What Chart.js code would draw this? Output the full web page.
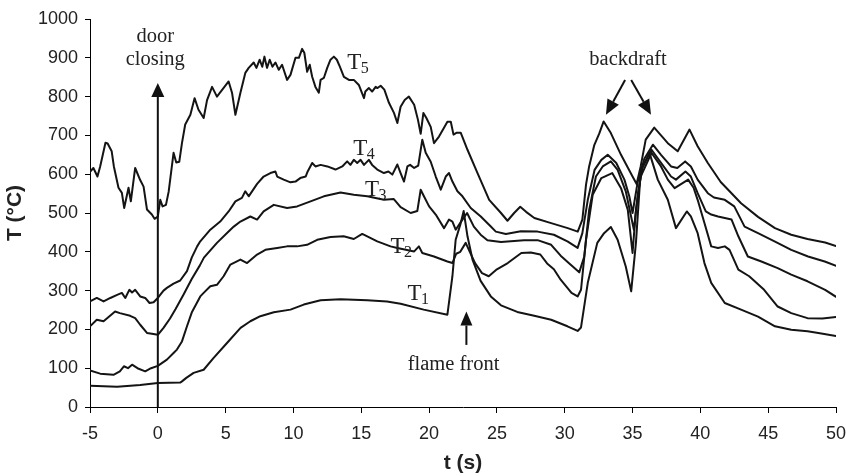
<!DOCTYPE html>
<html>
<head>
<meta charset="utf-8">
<script src="https://cdn.jsdelivr.net/npm/chart.js@4.4.1/dist/chart.umd.min.js"></script>
<style>
html,body{margin:0;padding:0;background:#fff;}
#wrap{width:846px;height:476px;position:relative;}
</style>
</head>
<body>
<div id="wrap"><canvas id="c" width="846" height="476"></canvas></div>
<script>
// ---- Data (time in s, temperature in °C) ----
const t5Time = [-5,-4.75,-4.45,-4.25,-3.86,-3.7,-3.4,-3.24,-2.9,-2.65,-2.48,-2.16,-1.99,-1.67,-1.3,-1.05,-0.8,-0.44,-0.24,0,0.18,0.35,0.6,0.8,1.16,1.36,1.58,1.78,2.02,2.4,2.71,3.0,3.38,3.63,4.0,4.36,5.22,5.47,5.72,6.09,6.45,6.7,7.07,7.27,7.51,7.7,7.86,8.05,8.25,8.45,8.67,8.92,9.16,9.53,9.78,10.15,10.4,10.64,10.8,11.01,11.2,11.38,11.62,11.87,12.0,12.24,12.49,12.73,12.98,13.2,13.42,13.72,14.09,14.45,14.82,15.2,15.3,15.56,15.8,16.06,16.2,16.43,16.7,17.04,17.41,17.66,17.9,18.2,18.51,18.9,19.18,19.38,19.58,19.8,20.12,20.36,20.73,21.1,21.35,21.6,21.8,22.04,22.33,22.83,23.57,24.43,25.3,25.78,26.27,26.72,27.15,27.76,29,30.22,30.96,31.3,31.57,31.8,32.18,32.55,32.87,33.4,34.15,35.0,35.3,35.6,35.97,36.6,37.6,38.33,39.2,39.8,40.55,41.5,43,44.25,45.5,46.7,47.9,49.2,50];
const t5Temp = [606,616,594,620,681,679,659,620,565,552,513,565,530,616,585,568,509,496,485,491,534,517,521,555,655,630,632,680,728,753,796,766,745,791,825,800,839,810,753,810,861,874,888,874,895,877,903,874,895,877,888,869,882,843,856,900,900,923,913,864,882,851,825,810,843,848,874,895,903,895,877,851,843,843,830,796,813,822,813,825,822,828,818,784,758,732,774,791,800,779,740,704,758,745,722,680,697,720,735,735,702,707,707,663,603,534,500,480,500,516,503,487,474,461,452,483,573,620,675,705,736,706,650,594,575,620,689,720,680,659,715,672,629,580,525,490,461,444,433,424,415];

const t4Time = [-5,-4.5,-4,-3.5,-3,-2.65,-2.4,-2.1,-1.9,-1.67,-1.3,-0.93,-0.61,-0.31,0,0.42,0.67,1.16,1.65,2.15,2.5,2.9,3.13,3.87,4.6,5.22,5.72,6.2,6.45,6.7,7.32,7.8,8.3,8.67,8.8,9.28,9.78,10.15,10.5,10.9,11.05,11.38,11.62,12,12.5,13.1,13.6,13.96,14.2,14.45,14.7,14.95,15.2,15.56,15.8,16.18,16.67,17,17.29,17.66,17.9,18.15,18.4,18.6,18.9,19.2,19.5,19.75,20.12,20.49,20.86,21.23,21.47,21.72,22.09,22.46,23.07,23.81,24.55,24.92,25.66,26.77,28,29.2,30.2,30.95,31.3,31.7,32.2,32.7,33.17,33.8,34.4,34.76,35,35.38,35.87,36.5,37.1,37.84,38.3,38.88,39.3,39.8,40.55,41,41.8,42.5,43.26,44.25,45.47,46.7,47.94,49.17,50];
const t4Temp = [272,281,272,281,289,294,281,302,295,302,285,281,268,270,281,300,307,318,326,350,385,414,427,457,478,504,530,539,556,543,575,594,603,607,594,586,579,581,590,594,607,629,620,624,620,612,620,633,624,637,629,637,624,637,624,612,603,607,599,625,603,581,620,624,616,622,689,655,632,594,560,594,603,581,556,543,513,491,465,452,446,453,452,444,427,410,448,534,611,637,650,629,586,543,500,580,640,676,650,620,616,633,620,586,551,540,534,517,465,448,427,405,388,375,364];

const t3Time = [-5,-4.5,-4,-3.15,-2.8,-2.04,-1.67,-1.3,-0.8,-0.44,0,0.42,0.9,1.3,1.9,2.5,3.1,3.4,4.36,5.35,5.6,6.09,6.82,7.32,7.8,8.55,9.53,10.27,11.26,12.24,13.47,14.45,15.44,16.67,17.4,17.9,18.64,19.13,19.38,19.62,20,20.49,21.1,21.47,21.72,21.96,22.46,22.8,23.3,23.8,24.3,25.3,27,28,29,29.7,30.4,31.07,31.44,31.8,32.3,32.8,33.4,33.9,34.5,35.1,35.4,35.75,36.4,37.1,37.84,38.2,38.9,39.3,39.8,40.4,40.8,41.3,42.3,42.8,43.5,44.5,45.7,46.7,47.9,49.2,50];
const t3Temp = [208,225,221,246,242,235,229,212,191,189,186,204,228,252,290,330,365,385,423,457,465,478,491,483,504,521,513,517,530,543,553,547,543,534,536,515,500,505,560,543,517,496,461,483,478,457,483,500,465,444,430,425,430,430,418,390,368,347,388,508,594,620,633,611,556,457,551,620,663,629,594,586,607,594,551,504,496,491,483,440,388,375,358,341,324,302,284];

const t2Time = [-5,-4.25,-3.27,-2.8,-2.5,-2.2,-1.9,-1.5,-0.93,-0.5,0,0.67,1.16,1.41,1.78,2.15,2.52,3.13,3.38,3.87,4.36,4.85,5.35,6.09,6.58,7.32,7.93,8.8,9.53,10.27,11,11.75,12.73,13.7,14.45,15.07,16.18,17.16,17.66,18.9,19.25,19.5,20.36,21.35,21.72,22.0,22.3,22.7,23.0,23.4,23.9,24.4,25,25.8,26.8,27.5,28.2,28.7,29.2,29.7,30.5,30.95,31.2,31.57,32.06,32.7,33.5,34.15,34.65,35,35.25,35.6,36.4,37.1,37.6,38.1,39.1,39.5,39.8,40.3,40.8,41.3,41.8,42.15,42.8,43.6,44.7,45.7,46.7,47.9,49,50];
const t2Temp = [94,86,83,92,105,100,109,100,92,100,106,122,139,148,169,208,245,285,294,311,315,337,367,380,371,393,405,410,414,414,418,431,438,440,433,446,427,414,410,401,414,397,388,375,371,395,400,423,400,370,345,337,355,371,397,398,393,370,355,328,294,285,302,431,547,590,603,564,508,397,508,594,655,620,586,564,586,565,534,474,414,410,414,405,354,337,302,259,242,229,228,232];

const t1Time = [-5,-3,-1.3,0,1.65,1.78,2.1,2.64,3.38,4.1,5.1,6.1,6.82,7.56,8.55,9.78,10.76,12,13.47,15.44,16.9,17.9,19.6,21.35,21.72,21.96,22.3,22.55,22.83,23.2,23.8,24.55,25.3,26.5,27.75,29,30.2,30.95,31.2,31.7,32.4,32.9,33.4,33.9,34.5,34.9,35.25,35.6,36.25,36.86,37.6,38.2,39,39.3,39.8,40.3,40.8,41.8,43,44.25,45.5,46.7,47.9,48.7,50];
const t1Temp = [55,52,57,62,63,66,75,88,96,126,165,204,221,234,244,251,264,275,278,275,272,266,251,238,337,431,470,505,440,380,325,285,262,245,235,225,208,196,205,320,423,448,464,431,362,298,423,607,655,586,534,461,504,491,448,371,320,268,251,233,208,199,195,191,183];

const xTickStep = 5;
const yTickStep = 100;
const xRange = [-5, 50];
const yRange = [0, 1000];

// series labels: [main, subscript, t, T]
const seriesLabels = [
  ['T','5',13.97,871],
  ['T','4',14.41,650],
  ['T','3',15.27,545],
  ['T','2',17.16,397],
  ['T','1',18.40,277]
];

const pts = (ts, vs) => ts.map((t,i)=>({x:t,y:vs[i]}));
const lineStyle = {borderColor:'#141414', borderWidth:2, pointRadius:0, tension:0, fill:false, borderJoinStyle:'round', borderCapStyle:'round'};

const annot = {
  id:'annot',
  afterDatasetsDraw(chart){
    const ctx = chart.ctx, xs = chart.scales.x, ys = chart.scales.y;
    const X = v=>xs.getPixelForValue(v), Y = v=>ys.getPixelForValue(v);
    ctx.save();
    ctx.strokeStyle = '#111'; ctx.fillStyle = '#111';
    function arrow(x1,y1,x2,y2,hl,hw){
      const a = Math.atan2(y2-y1,x2-x1);
      const bx = x2 - hl*Math.cos(a), by = y2 - hl*Math.sin(a);
      ctx.lineWidth = 2;
      ctx.beginPath(); ctx.moveTo(x1,y1); ctx.lineTo(bx,by); ctx.stroke();
      ctx.beginPath();
      ctx.moveTo(x2,y2);
      ctx.lineTo(bx + hw/2*Math.sin(a), by - hw/2*Math.cos(a));
      ctx.lineTo(bx - hw/2*Math.sin(a), by + hw/2*Math.cos(a));
      ctx.closePath(); ctx.fill();
    }
    // door closing
    arrow(X(0), Y(0), X(0), Y(835), 14, 13);
    // flame front
    arrow(X(22.75), Y(160), X(22.75), Y(246), 14, 12);
    // backdraft
    arrow(X(34.45), Y(843), X(33.04), Y(753), 15, 13);
    arrow(X(34.9), Y(843), X(36.36), Y(753), 15, 13);

    ctx.fillStyle = '#222';
    ctx.font = '20.5px "Liberation Serif", "Times New Roman", serif';
    ctx.textAlign = 'center'; ctx.textBaseline = 'alphabetic';
    ctx.fillText('door', X(-0.19), Y(942));
    ctx.fillText('closing', X(-0.19), Y(881));
    ctx.fillText('backdraft', X(34.67), Y(882));
    ctx.fillText('flame front', X(21.8), Y(96));

    ctx.textAlign = 'left';
    seriesLabels.forEach(([m,s,t,v])=>{
      ctx.font = '23px "Liberation Serif", "Times New Roman", serif';
      const x = X(t), y = Y(v);
      ctx.fillText(m, x, y);
      const w = ctx.measureText(m).width;
      ctx.font = '16px "Liberation Serif", "Times New Roman", serif';
      ctx.fillText(s, x + w - 0.5, y + 4);
    });
    ctx.restore();
  }
};

new Chart(document.getElementById('c'), {
  type:'line',
  data:{datasets:[
    Object.assign({label:'T5', data:pts(t5Time,t5Temp)}, lineStyle),
    Object.assign({label:'T4', data:pts(t4Time,t4Temp)}, lineStyle),
    Object.assign({label:'T3', data:pts(t3Time,t3Temp)}, lineStyle),
    Object.assign({label:'T2', data:pts(t2Time,t2Temp)}, lineStyle),
    Object.assign({label:'T1', data:pts(t1Time,t1Temp)}, lineStyle)
  ]},
  options:{
    responsive:false, animation:false, devicePixelRatio:1,
    layout:{padding:{top:19, right:10, left:0, bottom:0}},
    plugins:{legend:{display:false}, tooltip:{enabled:false}},
    scales:{
      x:{type:'linear', min:xRange[0], max:xRange[1],
        ticks:{stepSize:xTickStep, autoSkip:false, maxRotation:0, color:'#222', padding:10,
          callback:v=>String(v),
          font:{family:'"Liberation Sans", Arial, sans-serif', size:18}},
        grid:{drawOnChartArea:false, drawTicks:true, tickLength:6, color:'#000', lineWidth:1},
        border:{display:true, color:'#000', width:1},
        title:{display:true, text:'t (s)', color:'#222', padding:0,
          font:{family:'"Liberation Sans", Arial, sans-serif', size:21, weight:'bold'}},
        afterFit(s){ s.height = 69; s.paddingLeft = 0; s.paddingRight = 0; }
      },
      y:{min:yRange[0], max:yRange[1],
        ticks:{stepSize:yTickStep, color:'#222', padding:7,
          callback:v=>String(v),
          font:{family:'"Liberation Sans", Arial, sans-serif', size:18}},
        grid:{drawOnChartArea:false, drawTicks:true, tickLength:5, color:'#000', lineWidth:1},
        border:{display:true, color:'#000', width:1},
        title:{display:true, text:'T (°C)', color:'#222', padding:{top:3, bottom:0},
          font:{family:'"Liberation Sans", Arial, sans-serif', size:21, weight:'bold'}},
        afterFit(s){ s.width = 90; s.paddingTop = 0; s.paddingBottom = 0; }
      }
    }
  },
  plugins:[annot]
});
</script>
</body>
</html>
